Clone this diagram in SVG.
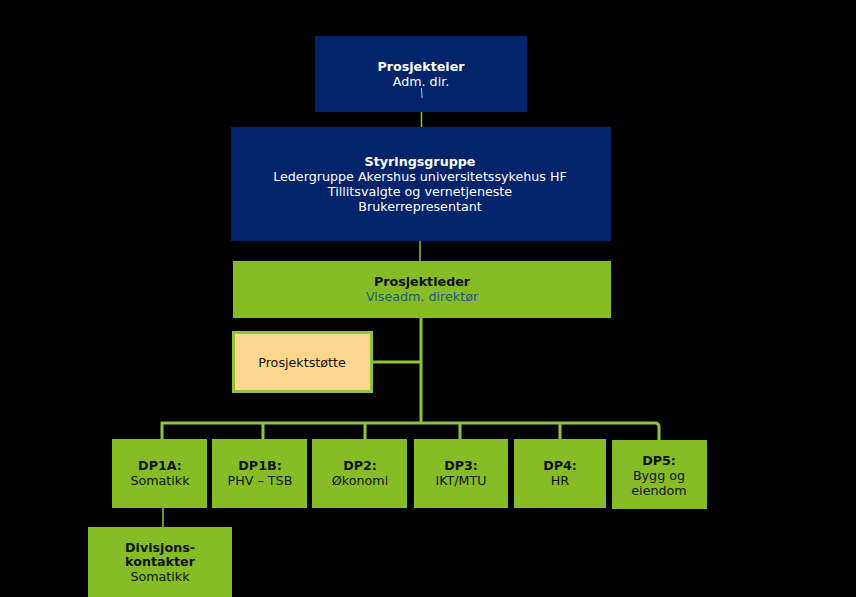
<svg xmlns="http://www.w3.org/2000/svg" width="856" height="597" viewBox="0 0 856 597">
<style>
text{font-family:"DejaVu Sans",sans-serif;font-size:12.7px;text-anchor:middle}
.navy{fill:#03236b}
.green{fill:#86bc25}
.w{fill:#ffffff}
.d{fill:#111111}
.b{font-weight:bold}
.ln{stroke:#8fc43a;fill:none}
</style>
<rect width="856" height="597" fill="#000000"/>
<g id="connectors">
<line class="ln" x1="421.5" y1="112" x2="421.5" y2="127" stroke-width="1.5"/>
<line class="ln" x1="420" y1="241" x2="420" y2="261" stroke-width="1.5"/>
<line class="ln" x1="421" y1="318" x2="421" y2="424" stroke-width="3"/>
<line class="ln" x1="373" y1="362" x2="421" y2="362" stroke-width="3"/>
<path class="ln" d="M162,439 V423 H655 Q659,423 659,427 V440" stroke-width="3"/>
<line class="ln" x1="263" y1="423" x2="263" y2="439" stroke-width="3"/>
<line class="ln" x1="365" y1="423" x2="365" y2="439" stroke-width="3"/>
<line class="ln" x1="460" y1="423" x2="460" y2="439" stroke-width="3"/>
<line class="ln" x1="560" y1="423" x2="560" y2="439" stroke-width="3"/>
<line class="ln" x1="163" y1="508" x2="163" y2="527" stroke-width="1.5"/>
</g>
<g id="prosjekteier">
<rect class="navy" x="315" y="36" width="212" height="76"/>
<text class="w b" x="421" y="71">Prosjekteier</text>
<text class="w" x="421" y="86">Adm. dir.</text>
<line x1="421.5" y1="88" x2="422" y2="98" stroke="#b8cde8" stroke-width="1"/>
</g>
<g id="styringsgruppe">
<rect class="navy" x="231" y="127" width="380" height="114"/>
<text class="w b" x="420" y="166">Styringsgruppe</text>
<text class="w" x="420" y="181">Ledergruppe Akershus universitetssykehus HF</text>
<text class="w" x="420" y="196">Tillitsvalgte og vernetjeneste</text>
<text class="w" x="420" y="211">Brukerrepresentant</text>
</g>
<g id="prosjektleder">
<rect class="green" x="233" y="261" width="378" height="57"/>
<text class="d b" x="422" y="286">Prosjektleder</text>
<text x="422" y="301" fill="#1f5a86">Viseadm. direktør</text>
</g>
<g id="prosjektstotte">
<rect x="233.5" y="332.5" width="138" height="59" fill="#fdd78d" stroke="#8fc43a" stroke-width="3"/>
<text class="d" x="302" y="367">Prosjektstøtte</text>
</g>
<g id="dp1a">
<rect class="green" x="112" y="439" width="95" height="69"/>
<text class="d b" x="160" y="470">DP1A:</text>
<text class="d" x="160" y="485">Somatikk</text>
</g>
<g id="dp1b">
<rect class="green" x="212" y="439" width="95" height="69"/>
<text class="d b" x="260" y="470">DP1B:</text>
<text class="d" x="260" y="485">PHV – TSB</text>
</g>
<g id="dp2">
<rect class="green" x="312" y="439" width="95" height="69"/>
<text class="d b" x="360" y="470">DP2:</text>
<text class="d" x="360" y="485">Økonomi</text>
</g>
<g id="dp3">
<rect class="green" x="414" y="439" width="94" height="69"/>
<text class="d b" x="461" y="470">DP3:</text>
<text class="d" x="461" y="485">IKT/MTU</text>
</g>
<g id="dp4">
<rect class="green" x="514" y="439" width="92" height="69"/>
<text class="d b" x="560" y="470">DP4:</text>
<text class="d" x="560" y="485">HR</text>
</g>
<g id="dp5">
<rect class="green" x="612" y="440" width="95" height="69"/>
<text class="d b" x="659" y="465">DP5:</text>
<text class="d" x="659" y="480">Bygg og</text>
<text class="d" x="659" y="495">eiendom</text>
</g>
<g id="divisjonskontakter">
<rect class="green" x="88" y="527" width="144" height="70"/>
<text class="d b" x="160" y="552">Divisjons-</text>
<text class="d b" x="160" y="566">kontakter</text>
<text class="d" x="160" y="581">Somatikk</text>
</g>
</svg>
